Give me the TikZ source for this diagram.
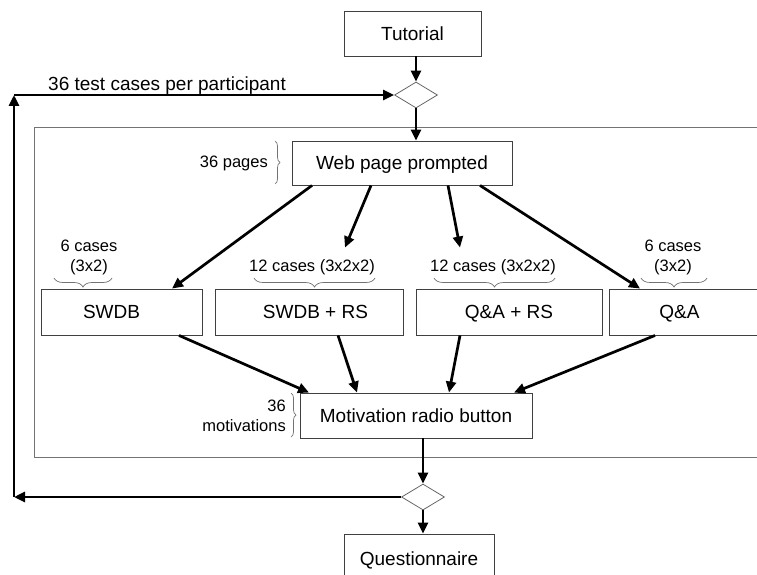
\documentclass[tikz,border=0pt]{standalone}
\usepackage{fontspec}
\setmainfont{Liberation Sans}
\usetikzlibrary{arrows.meta,shapes.geometric,decorations.pathreplacing}
\begin{document}
\begin{tikzpicture}[x=1pt,y=-1pt,
  box/.style={draw=black!75, line width=0.9pt, rectangle, inner sep=0pt, text height=13.6pt, text depth=0pt, font=\fontsize{19}{22}\selectfont},
  arr/.style={line width=2.7pt, -{Triangle[length=11pt,width=10pt]}},
  dia/.style={draw=black!60, line width=0.8pt, diamond, aspect=1.65, minimum width=43pt, minimum height=26pt, inner sep=0pt},
  brc/.style={draw=black!55, line width=0.7pt, decorate, decoration={brace, amplitude=#1}},
  small/.style={font=\fontsize{16.5}{20}\selectfont, inner sep=0pt, align=center},
  lbl/.style={font=\fontsize{19}{22}\selectfont, inner sep=0pt},
  frame/.style={draw=black!55, line width=0.9pt}
]
\useasboundingbox (0,0) rectangle (757,575);
\clip (0,0) rectangle (757,575);
\fill[white] (0,0) rectangle (757,575);
% container
\draw[frame] (34,127) rectangle (775,457);
% nodes
\node[box, minimum width=137pt, minimum height=45pt] (tut) at (412.5,33.5) {Tutorial};
\node[dia] (d1) at (416,95) {};
\node[box, minimum width=220pt, minimum height=44pt] (web) at (402,163) {Web page prompted};
\node[box, minimum width=161pt, minimum height=46pt] (swdb) at (121.5,312) {\hspace*{-20pt}SWDB};
\node[box, minimum width=188pt, minimum height=46pt] (swdbrs) at (309,312) {\hspace*{13pt}SWDB + RS};
\node[box, minimum width=186pt, minimum height=46pt] (qars) at (509,312) {Q\&A + RS};
\node[box, minimum width=161pt, minimum height=46pt] (qa) at (689.5,312) {\hspace*{-20pt}Q\&A};
\node[box, minimum width=232pt, minimum height=45pt] (mot) at (416,415.5) {Motivation radio button};
\node[dia] (d2) at (423,497) {};
\node[box, minimum width=150pt, minimum height=50pt] (quest) at (419,559) {Questionnaire};
% labels
\node[lbl, anchor=west] (loopl) at (48,86) {36 test cases per participant};
\node[small, anchor=east] (pages) at (268,163) {36 pages};
\node[small, align=right, anchor=east] (motl) at (286,416) {36\\motivations};
\node[small] (c1) at (89,257) {6 cases\\(3x2)};
\node[small] (c2) at (312,267) {12 cases (3x2x2)};
\node[small] (c3) at (493,267) {12 cases (3x2x2)};
\node[small] (c4) at (673,257) {6 cases\\(3x2)};
% braces
\draw[brc=5pt] (275,141) -- (275,184);
\draw[brc=5pt] (291,393) -- (291,437);
\draw[brc=9pt] (112,278) -- (54,278);
\draw[brc=9pt] (375,278) -- (254,278);
\draw[brc=9pt] (555,278) -- (434,278);
\draw[brc=9pt] (707,278) -- (641,278);
% connectors
\coordinate (lb) at (14,497);
\coordinate (lt) at (14,95);
\draw[arr] (tut.south -| d1) -- (d1.north);
\draw[arr] (d1.south) -- (d1.south |- web.north);
\draw[arr] ([xshift=-90pt]web.south) -- ([xshift=50.5pt]swdb.north);
\draw[arr] ([xshift=-31pt]web.south) -- ([xshift=36pt,yshift=41pt]swdbrs.north);
\draw[arr] ([xshift=46pt]web.south) -- ([xshift=-49pt,yshift=41pt]qars.north);
\draw[arr] ([xshift=78pt]web.south) -- ([xshift=-49.5pt]qa.north);
\draw[arr] ([xshift=57.5pt]swdb.south) -- ([xshift=-107pt]mot.north);
\draw[arr] ([xshift=29pt]swdbrs.south) -- ([xshift=-59pt]mot.north);
\draw[arr] ([xshift=-49pt]qars.south) -- ([xshift=33pt]mot.north);
\draw[arr] ([xshift=-34.5pt]qa.south) -- ([xshift=98pt]mot.north);
\draw[arr] (mot.south -| d2) -- (d2.north);
\draw[arr] (d2.south) -- (d2.south |- quest.north);
\draw[arr] (d2.west) -- (lb);
\draw[arr] (lb) -- (lt);
\draw[arr] (lt) -- (d1.west);
\end{tikzpicture}
\end{document}
